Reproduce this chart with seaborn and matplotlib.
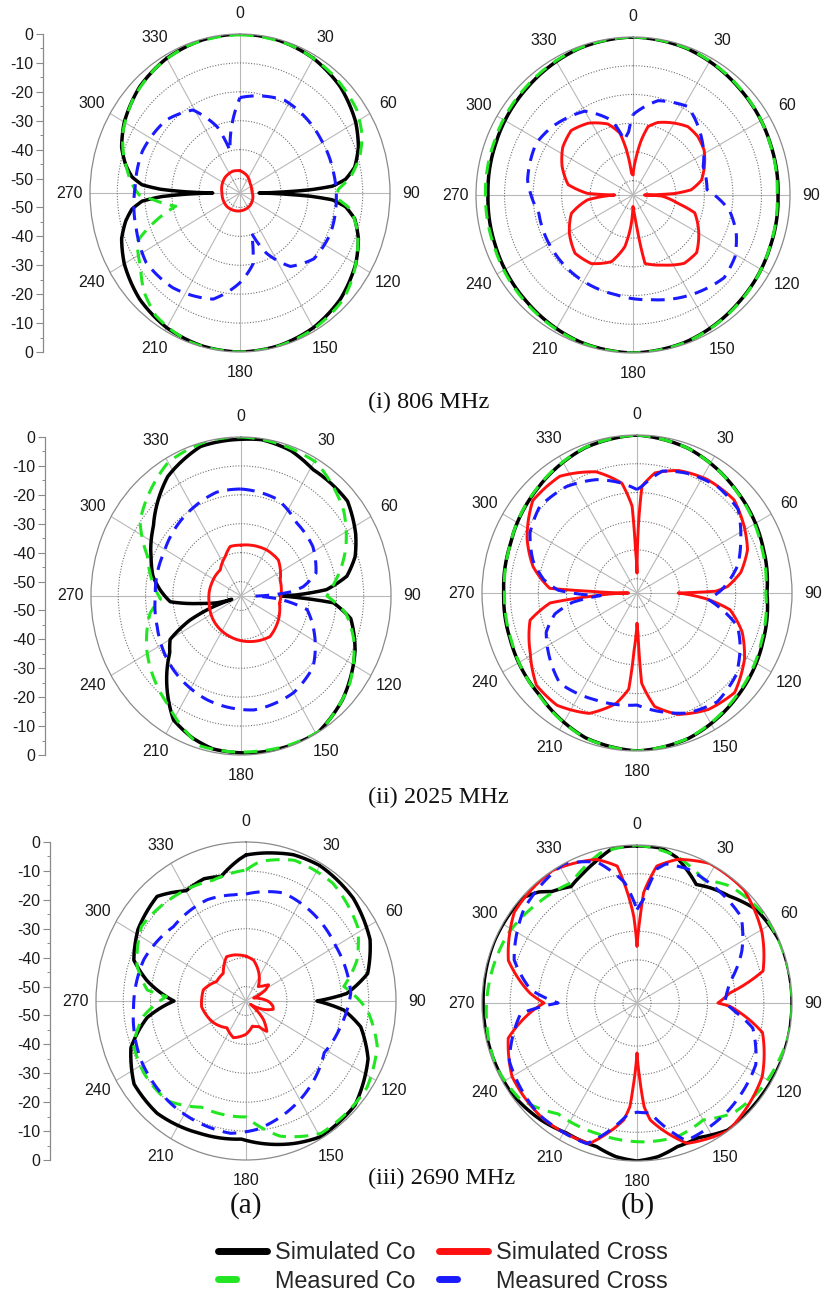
import numpy as np
import matplotlib
matplotlib.use("Agg")
import matplotlib.pyplot as plt
import seaborn as sns
from matplotlib.lines import Line2D

sns.set_theme(style="white")
plt.rcParams["font.family"] = ["Liberation Sans", "DejaVu Sans"]

# ---------------- data (angle in degrees, level in dB) ----------------
theta_ticks = [0, 30, 60, 90, 120, 150, 180, 210, 240, 270, 300, 330]
theta_labels = ["0", "30", "60", "90", "120", "150", "180", "210", "240", "270", "300", "330"]
r_rings = [-50, -40, -30, -20, -10]
r_axis_values = [0, -10, -20, -30, -40, -50]
r_axis_labels = ["0", "-10", "-20", "-30", "-40", "-50"]
r_axis_minor = [-5, -15, -25, -35, -45]
captions = ["(i) 806 MHz", "(ii) 2025 MHz", "(iii) 2690 MHz"]
column_labels = ["(a)", "(b)"]
series_names = ["Simulated Co", "Measured Co", "Simulated Cross", "Measured Cross"]

# (i) 806 MHz, column (a)
i_a_sim_co_deg = [0, 15, 30, 45, 60, 70, 78, 83, 86, 87.5, 88.7, 90, 91.3, 92.5, 94, 97, 102, 110, 120, 135, 150, 165,
                  180, 195, 210, 225, 240, 250, 257, 262, 265.5, 267.5, 268.8, 270, 271.2, 272.5, 274.5, 278, 283, 290,
                  300, 315, 330, 345, 360]
i_a_sim_co_db = [0, -0.3, -1.2, -3, -6, -8.8, -12, -16, -21, -29, -39, -48, -39, -29, -21, -16, -12, -8.8, -6, -3, -1.2,
                 -0.3, 0, -0.3, -1.2, -3, -6, -8.8, -12, -15, -19, -26, -35, -45, -35, -26, -19, -15, -12, -8.8, -6, -3,
                 -1.2, -0.3, 0]
i_a_mea_co_deg = [0, 20, 40, 56, 66, 74, 82, 88, 93, 97, 101, 108, 116, 125, 134, 150, 165, 180, 200, 216, 226, 235,
                  246, 259, 266, 269, 275, 280, 288, 296, 310, 325, 340, 360]
i_a_mea_co_db = [-0.3, -0.6, -1.8, -3.4, -6, -9.3, -14, -19, -19.5, -15, -12.6, -9.5, -7.2, -4.5, -2.2, -0.8, -0.2, 0,
                 -0.3, -2.5, -6, -10.5, -13.7, -31, -23, -18, -15, -13.2, -10, -7.2, -4, -1.8, -0.6, -0.3]
i_a_sim_x_deg = [0, 22, 47, 70, 85, 109, 140, 180, 225, 270, 315, 341, 360]
i_a_sim_x_db = [-47.3, -48.4, -50, -50.5, -50.6, -50, -49.3, -48.8, -48.3, -48.4, -47.3, -47, -47.3]
i_a_mea_x_deg = [0, 27, 58, 78, 94, 113, 130, 144, 155, 163, 169, 180, 195, 217, 235, 252, 273, 292, 313, 329, 340,
                 346, 360]
i_a_mea_x_db = [-22, -19, -20, -20, -19.6, -19, -19.6, -23.6, -32, -40.5, -30, -24, -17, -14, -13, -15, -16.5, -16.4,
                -18, -21.5, -30.7, -40, -22]

# (i) 806 MHz, column (b)
i_b_sim_co_deg = [0, 20, 45, 70, 90, 110, 135, 160, 180, 200, 225, 250, 270, 290, 315, 340, 360]
i_b_sim_co_db = [0, -0.6, -2.4, -3.7, -4.2, -3.7, -2.4, -0.6, 0, -0.6, -2.4, -3.7, -4.2, -3.7, -2.4, -0.6, 0]
i_b_mea_co_deg = [0, 20, 45, 70, 90, 110, 135, 160, 180, 200, 225, 250, 270, 290, 315, 340, 360]
i_b_mea_co_db = [0, -0.5, -2.2, -3.8, -4.5, -3.8, -2.2, -0.5, 0, -0.5, -2.0, -3.2, -3.3, -3.0, -1.9, -0.5, 0]
i_b_sim_x_deg = [0, 5, 8.7, 12.5, 19, 30, 39, 48, 58, 68, 78, 85, 88, 90, 92, 100.5, 106, 120, 132, 143, 156, 170,
                 172.5, 175, 180, 184, 189, 198, 211.5, 225, 239, 253.5, 264, 267, 270, 272, 279, 292, 304, 316, 328,
                 340.5, 348, 351.6, 356, 360]
i_b_sim_x_db = [-48, -41.6, -35.6, -30.6, -28.3, -26.1, -24.4, -24.5, -25.6, -28, -30.5, -34.6, -40.4, -51, -45,
                -39, -32.5, -28.4, -25, -25.2, -28.3, -30.8, -41.5, -48, -51, -44, -36.8, -30.6, -27, -26.3, -29,
                -32.5, -39, -44, -48.6, -39, -32, -28.2, -25.3, -23.8, -25.5, -28.8, -33, -39, -47.5, -48]
i_b_mea_x_deg = [0, 15, 32, 51, 68, 86, 99, 110, 121, 132, 148, 170, 190, 209, 233, 259, 278, 298, 309, 330, 344, 351,
                 356, 360]
i_b_mea_x_db = [-27, -21, -18.7, -24, -28.5, -29, -20.8, -16.5, -13.3, -12, -14.5, -18, -19.8, -20.3, -20.9, -21.4,
                -17.7, -16.6, -17.9, -21.3, -28, -35.7, -33, -27]

# (ii) 2025 MHz, column (a)
ii_a_sim_co_deg = [0, 8, 20, 31, 50, 63, 72, 80, 86, 89, 90, 92, 94, 101, 114, 134, 149, 160, 172, 191, 200, 210, 222,
                   233, 240, 246, 250, 251.5, 255, 259.6, 265.6, 274, 282, 291, 307, 327, 344, 360]
ii_a_sim_co_db = [-0.8, -0.4, -1.5, -3.9, -4, -7.8, -11, -15.6, -23.6, -35, -40.6, -32, -21, -14, -9.2, -3.3, 0, -0.2,
                  -0.5, -1.1, -2.8, -5.5, -14.3, -22.3, -25, -34.5, -44.2, -51.4, -46, -41, -29, -25.3, -22, -19.7,
                  -14.8, -5.7, -1.2, -0.8]
ii_a_mea_co_deg = [0, 31, 52, 67, 83, 90, 99, 110, 127, 148, 175, 196, 215, 240, 260, 268, 292, 305, 330, 347, 360]
ii_a_mea_co_db = [0, -1.2, -7.2, -13.3, -20.7, -23.5, -16, -11, -5, -0.1, -1, -1, -8.7, -15.3, -21.2, -25.5, -18,
                  -9.8, -1.6, 0, 0]
ii_a_sim_x_deg = [0, 30.6, 47.8, 69, 100, 121, 143, 168, 196, 231, 258, 292, 320, 337, 347, 360]
ii_a_sim_x_db = [-37.4, -36.5, -36.5, -39.6, -40.7, -39, -37.4, -38.9, -40.4, -41.9, -43.1, -43.4, -43.2, -40.2,
                 -37.4, -37.4]
ii_a_mea_x_deg = [0, 22, 39, 57, 74, 82, 85.4, 90.4, 94.5, 101, 115, 133, 150, 173, 199, 224, 251, 270, 298, 331, 346,
                  360]
ii_a_mea_x_db = [-18, -19, -22.5, -23.6, -26.4, -32, -36.3, -50, -40.7, -30.3, -25.4, -18.9, -16.4, -15.3, -17, -19.4,
                 -22.5, -23.6, -23, -19.7, -18, -18]

# (ii) 2025 MHz, column (b)
ii_b_sim_co_deg = [0, 20, 45, 70, 90, 110, 135, 160, 180, 200, 224, 250, 270, 290, 315, 340, 360]
ii_b_sim_co_db = [0, -1.5, -4.9, -7.5, -8.9, -7.3, -4.4, -1.2, 0, -1.4, -5.4, -7.2, -7.7, -7, -4.4, -1.2, 0]
ii_b_mea_co_deg = [0, 20, 45, 70, 90, 110, 135, 160, 180, 200, 224, 250, 270, 290, 315, 340, 360]
ii_b_mea_co_db = [0, -1.5, -5, -8, -9.3, -7.8, -4.8, -1.3, 0, -1.3, -5.2, -7.5, -8, -7, -4.2, -1.1, 0]
ii_b_sim_x_deg = [0, 0.5, 1.3, 2.7, 8.7, 19, 32, 46.7, 58.7, 69, 79, 86, 88.7, 90, 95, 100, 110, 121, 135, 148, 161,
                  171, 177, 178.6, 180, 183, 185, 191, 202, 216, 228, 241, 256, 263.6, 266, 270, 272, 273, 284, 296,
                  311, 326, 341, 352, 356.7, 358, 360]
ii_b_sim_x_db = [-48, -40, -30.6, -17.8, -12.7, -9.9, -8.3, -7.7, -10.5, -13, -17.5, -22.8, -27, -40.4, -29.8, -21.5,
                 -15.3, -10.5, -6, -7.2, -10.3, -15, -23.6, -41, -44.5, -35, -21.4, -15.8, -9.8, -6.7, -7, -11.7,
                 -15.9, -24, -39, -52, -39, -24, -17, -11.6, -6, -6, -10.4, -16.4, -24.7, -40, -48]
ii_b_mea_x_deg = [0, 2.7, 12, 23, 38, 51, 63, 75, 88, 95, 99, 108, 116, 129, 143, 157, 168, 180, 201, 221, 247, 256,
                  262, 266, 272, 278, 287, 299, 311, 326, 340, 352, 360]
ii_b_mea_x_db = [-19, -17.8, -11.6, -9.7, -8.2, -8.8, -13.7, -18, -25, -29.7, -26, -17.5, -14.3, -9.7, -7.6, -9.6,
                 -12.7, -16, -15, -13.3, -20, -25, -32, -42, -27, -21.6, -16.4, -11.6, -9.2, -10.3, -13, -16.4, -19]

# (iii) 2690 MHz, column (a)
iii_a_sim_co_deg = [0, 12.5, 19, 30, 48, 65, 78, 86, 90, 95, 102, 114, 132, 150, 160, 182, 200, 220, 235, 249, 261,
                    270, 281, 289, 302, 318, 330, 340, 348, 357, 360]
iii_a_sim_co_db = [-4.5, -2.6, -1.5, -0.9, -2, -4.8, -9.4, -18, -29, -19, -12, -6, -1.2, -0.7, -2.6, -7.2, -6.2,
                   -4.3, -4.9, -9.8, -18.3, -28.6, -18, -11.5, -8.3, -6.3, -11, -10, -11, -6, -4.5]
iii_a_mea_co_deg = [0, 6, 20, 38, 58, 71, 82, 94, 108, 124, 149, 165, 180, 204, 220, 236, 250, 262, 273, 276, 287, 304,
                    327, 344, 360]
iii_a_mea_co_db = [-9.7, -6.5, -3.2, -3.3, -6.7, -12, -18.8, -10.4, -4.4, -1.5, -1.6, -6.6, -14.9, -14.8, -10, -10,
                   -11, -17, -25.8, -18.6, -13.2, -8.8, -10.5, -11.5, -9.7]
iii_a_sim_x_deg = [0, 11, 25, 42, 50, 56, 62, 70, 80, 92, 100, 106, 112, 125, 135, 144, 152, 165, 180, 200, 217, 238,
                   263, 284, 302, 319, 335, 345, 360]
iii_a_sim_x_db = [-39.5, -40.6, -44, -48.3, -47, -45, -47, -52, -50, -46.5, -45, -44.6, -47, -53, -46, -42, -45, -46,
                  -43.5, -41.5, -43.4, -40.9, -38.6, -38.9, -42.3, -42.3, -38.1, -38.5, -39.5]
iii_a_mea_x_deg = [0, 20, 39, 60, 86, 104, 122, 150, 175, 187, 216, 242, 267, 291, 314, 338, 353, 360]
iii_a_mea_x_db = [-18, -15.2, -16, -17, -16.5, -19.2, -21.2, -15.5, -10.4, -8.9, -10, -11.4, -13.7, -14.9, -18, -17.2,
                  -18, -18]

# (iii) 2690 MHz, column (b)
iii_b_sim_co_deg = [0, 9, 15.5, 22, 27, 33, 41.5, 52.5, 67, 90, 112, 126, 144, 150, 155, 164, 172, 180, 188, 196, 209,
                    220, 235, 270, 293, 312, 318, 322, 330, 337, 343, 351, 360]
iii_b_sim_co_db = [-0.3, -0.4, -2.4, -6, -8.7, -7.2, -5.4, -1.6, 0, 0, 0, -0.3, -0.3, -2, -3.3, -3, -1, 0, -1, -3,
                   -3.3, -1.9, -0.5, -0.4, 0, -0.3, -3, -5.8, -8.2, -6, -3.8, -0.4, -0.3]
iii_b_mea_co_deg = [0, 15, 29, 39, 55, 77, 101, 123, 138, 150, 163, 177, 197, 216, 231, 246, 270, 298, 315, 331, 346,
                    360]
iii_b_mea_co_db = [0, -1.9, -6, -2.6, -0.5, 0, 0, -1.7, -3.6, -8, -6.3, -6.6, -7.4, -7.3, -1.7, -0.3, -1.6, -3.3,
                   -5.6, -7.1, -1.2, 0]
iii_b_sim_x_deg = [0, 1, 2.2, 3.5, 8.4, 16, 28, 44, 61, 76, 84, 90, 92, 103, 120, 144, 160, 173.4, 176, 177.7, 180,
                   182.3, 184, 186.6, 199, 219, 240, 255, 265, 270, 275, 288, 306, 327, 344, 351.6, 355, 357.8, 359,
                   360]
iii_b_sim_x_db = [-35.2, -30.6, -24.7, -16.5, -6.8, -3, 0, -0.3, -4.3, -8.9, -22, -26.3, -22, -9.3, -3.7, 0, -3, -14,
                  -18.8, -27.5, -37.6, -27.5, -18.8, -14, -3.3, -2.7, -3.8, -7.7, -17, -22, -17, -7, -1.2, 0, -3,
                  -6.8, -16.5, -24.7, -30.6, -35.2]
iii_b_mea_x_deg = [0, 3.7, 8.6, 12, 21, 32, 51, 64, 78, 84, 90, 95, 102, 117, 139, 160, 173, 180, 185, 200, 222, 246,
                   265, 270, 277, 289, 309, 332, 344, 354, 360]
iii_b_mea_x_db = [-22.5, -18.8, -7.8, -5.5, -5, -6, -7.4, -13.6, -21.5, -23, -24, -20, -13, -7.7, -5.5, -4, -16.5,
                  -17, -16, -2.9, -2.9, -5.4, -13.6, -27, -17, -8.9, -3.3, 0, -4, -12.8, -22.5]

# ---------------- styling ----------------
R_MIN, R_MAX = -55, 0
COLORS = {"Simulated Co": "#000000", "Measured Co": "#22e622",
          "Simulated Cross": "#ff1010", "Measured Cross": "#1a1aff"}
DASH = (0, (4.5, 2.8))
STYLE = {"Simulated Co": dict(lw=2.5, linestyle="-"),
         "Measured Co": dict(lw=2.2, linestyle=DASH),
         "Simulated Cross": dict(lw=2.1, linestyle="-"),
         "Measured Cross": dict(lw=2.2, linestyle=DASH)}
DRAW_ORDER = ["Simulated Co", "Measured Co", "Simulated Cross", "Measured Cross"]

W, H = 822, 1291
fig = plt.figure(figsize=(W / 100, H / 100), dpi=100)
fig.patch.set_facecolor("white")


def rect_px(x0, y0, x1, y1):
    return [x0 / W, 1 - y1 / H, (x1 - x0) / W, (y1 - y0) / H]


panels = [
    ((90, 34, 390, 352), {"Simulated Co": (i_a_sim_co_deg, i_a_sim_co_db), "Measured Co": (i_a_mea_co_deg, i_a_mea_co_db),
                          "Simulated Cross": (i_a_sim_x_deg, i_a_sim_x_db), "Measured Cross": (i_a_mea_x_deg, i_a_mea_x_db)}),
    ((476, 37, 790, 353), {"Simulated Co": (i_b_sim_co_deg, i_b_sim_co_db), "Measured Co": (i_b_mea_co_deg, i_b_mea_co_db),
                           "Simulated Cross": (i_b_sim_x_deg, i_b_sim_x_db), "Measured Cross": (i_b_mea_x_deg, i_b_mea_x_db)}),
    ((91, 437, 391, 755), {"Simulated Co": (ii_a_sim_co_deg, ii_a_sim_co_db), "Measured Co": (ii_a_mea_co_deg, ii_a_mea_co_db),
                           "Simulated Cross": (ii_a_sim_x_deg, ii_a_sim_x_db), "Measured Cross": (ii_a_mea_x_deg, ii_a_mea_x_db)}),
    ((482, 435, 792, 751), {"Simulated Co": (ii_b_sim_co_deg, ii_b_sim_co_db), "Measured Co": (ii_b_mea_co_deg, ii_b_mea_co_db),
                            "Simulated Cross": (ii_b_sim_x_deg, ii_b_sim_x_db), "Measured Cross": (ii_b_mea_x_deg, ii_b_mea_x_db)}),
    ((96, 842, 396, 1160), {"Simulated Co": (iii_a_sim_co_deg, iii_a_sim_co_db), "Measured Co": (iii_a_mea_co_deg, iii_a_mea_co_db),
                            "Simulated Cross": (iii_a_sim_x_deg, iii_a_sim_x_db), "Measured Cross": (iii_a_mea_x_deg, iii_a_mea_x_db)}),
    ((482, 845, 792, 1161), {"Simulated Co": (iii_b_sim_co_deg, iii_b_sim_co_db), "Measured Co": (iii_b_mea_co_deg, iii_b_mea_co_db),
                             "Simulated Cross": (iii_b_sim_x_deg, iii_b_sim_x_db), "Measured Cross": (iii_b_mea_x_deg, iii_b_mea_x_db)}),
]

for box, curves in panels:
    ax = fig.add_axes(rect_px(*box), projection="polar")
    ax.set_aspect("auto")
    ax.set_theta_zero_location("N")
    ax.set_theta_direction(-1)
    ax.set_facecolor("white")
    for name in DRAW_ORDER:
        deg, db = curves[name]
        sns.lineplot(x=np.deg2rad(deg), y=np.asarray(db, float), ax=ax, sort=False, estimator=None,
                     color=COLORS[name], legend=False, solid_capstyle="round", **STYLE[name])
        # draw each segment as a curve in polar space (arcs) instead of straight chords
        ax.lines[-1].get_path()._interpolation_steps = 60
    ax.set_ylim(R_MIN, R_MAX)
    ax.set_yticks(r_rings)
    ax.set_yticklabels([])
    ax.set_xticks(np.deg2rad(theta_ticks))
    ax.set_xticklabels(theta_labels)
    ax.set_xlabel("")
    ax.set_ylabel("")
    ax.xaxis.grid(True, color="#b8b8b8", lw=0.8, ls="-")
    ax.yaxis.grid(True, color="#707070", lw=0.8, ls=(0, (1, 1.5)))
    ax.spines["polar"].set_color("#8a8a8a")
    ax.spines["polar"].set_linewidth(0.9)
    ax.tick_params(axis="x", pad=2, labelsize=11.5, labelcolor="#1a1a1a")
    ax.set_axisbelow(True)

# linear dB scales to the left of column (a)
for spine_x, (x0, y0, x1, y1) in zip([43, 45, 50], [panels[0][0], panels[2][0], panels[4][0]]):
    lax = fig.add_axes([spine_x / W, 1 - y1 / H, 0.002, (y1 - y0) / H])
    lax.patch.set_visible(False)
    lax.set_ylim(R_MIN, -R_MIN)
    lax.set_xticks([])
    for s in ["top", "right", "bottom"]:
        lax.spines[s].set_visible(False)
    lax.spines["left"].set_color("#8a8a8a")
    lax.spines["left"].set_linewidth(0.9)
    major = [v - R_MIN for v in r_axis_values] + [-(v - R_MIN) for v in r_axis_values]
    lax.set_yticks(major)
    lax.set_yticklabels(r_axis_labels + r_axis_labels)
    minor = [v - R_MIN for v in r_axis_minor] + [-(v - R_MIN) for v in r_axis_minor]
    lax.set_yticks(minor, minor=True)
    lax.tick_params(axis="y", which="major", direction="out", length=5, width=0.8, color="#8a8a8a",
                    labelsize=11.5, pad=2, labelcolor="#1a1a1a", left=True)
    lax.tick_params(axis="y", which="minor", direction="out", length=2.5, width=0.7, color="#8a8a8a", left=True)

# captions
serif = ["Liberation Serif", "DejaVu Serif"]
for text, ypx in zip(captions, [402, 797, 1178]):
    fig.text(368 / W, 1 - ypx / H, text, family=serif, fontsize=17.5, ha="left", va="center", color="#111111")
for text, xpx in zip(column_labels, [246, 638]):
    fig.text(xpx / W, 1 - 1206 / H, text, family=serif, fontsize=21, ha="center", va="center", color="#111111")

# legend
handles = [
    Line2D([], [], color=COLORS["Simulated Co"], lw=5, solid_capstyle="round"),
    Line2D([], [], color=COLORS["Measured Co"], lw=5, linestyle=(0, (2.6, 8)), dash_capstyle="round"),
    Line2D([], [], color=COLORS["Simulated Cross"], lw=5, solid_capstyle="round"),
    Line2D([], [], color=COLORS["Measured Cross"], lw=5, linestyle=(0, (2.6, 8)), dash_capstyle="round"),
]
fig.legend(handles, series_names, ncol=2, loc="center left", bbox_to_anchor=(218 / W, 1 - 1267 / H),
           frameon=False, fontsize=16.8, handlelength=2.1, handletextpad=0.35, columnspacing=1.0,
           labelspacing=0.22, borderpad=0, borderaxespad=0)

fig.savefig("out.png", dpi=100, facecolor="white")
